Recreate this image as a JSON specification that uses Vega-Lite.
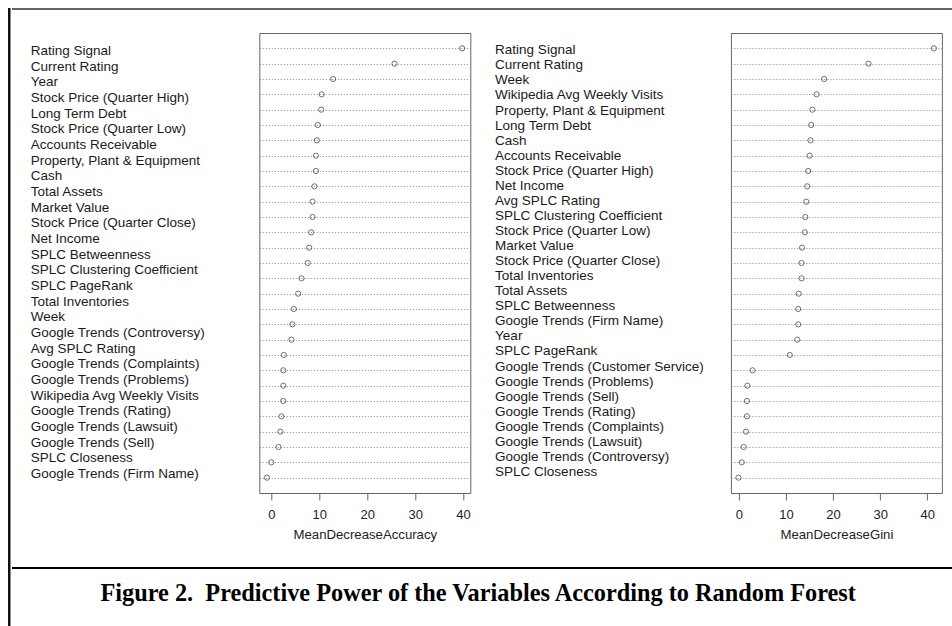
{
  "$schema": "https://vega.github.io/schema/vega-lite/v6.json",
  "padding": {"left": 8, "top": 8, "right": 0, "bottom": 0},
  "background": "white",
  "config": {
    "font": "Liberation Sans",
    "axis": {"labelFont": "Liberation Sans", "titleFont": "Liberation Sans"}
  },
  "datasets": {
    "accuracyDots": [
      {"row": 1, "value": 39.8}, {"row": 2, "value": 25.7}, {"row": 3, "value": 12.9},
      {"row": 4, "value": 10.5}, {"row": 5, "value": 10.4}, {"row": 6, "value": 9.7},
      {"row": 7, "value": 9.5}, {"row": 8, "value": 9.3}, {"row": 9, "value": 9.3},
      {"row": 10, "value": 9.0}, {"row": 11, "value": 8.6}, {"row": 12, "value": 8.6},
      {"row": 13, "value": 8.3}, {"row": 14, "value": 7.9}, {"row": 15, "value": 7.6},
      {"row": 16, "value": 6.3}, {"row": 17, "value": 5.6}, {"row": 18, "value": 4.7},
      {"row": 19, "value": 4.4}, {"row": 20, "value": 4.2}, {"row": 21, "value": 2.6},
      {"row": 22, "value": 2.5}, {"row": 23, "value": 2.5}, {"row": 24, "value": 2.5},
      {"row": 25, "value": 2.1}, {"row": 26, "value": 1.9}, {"row": 27, "value": 1.5},
      {"row": 28, "value": 0.0}, {"row": 29, "value": -0.9}
    ],
    "accuracyLabels": [
      {"order": 1, "variable": "Rating Signal"},
      {"order": 2, "variable": "Current Rating"},
      {"order": 3, "variable": "Year"},
      {"order": 4, "variable": "Stock Price (Quarter High)"},
      {"order": 5, "variable": "Long Term Debt"},
      {"order": 6, "variable": "Stock Price (Quarter Low)"},
      {"order": 7, "variable": "Accounts Receivable"},
      {"order": 8, "variable": "Property, Plant & Equipment"},
      {"order": 9, "variable": "Cash"},
      {"order": 10, "variable": "Total Assets"},
      {"order": 11, "variable": "Market Value"},
      {"order": 12, "variable": "Stock Price (Quarter Close)"},
      {"order": 13, "variable": "Net Income"},
      {"order": 14, "variable": "SPLC Betweenness"},
      {"order": 15, "variable": "SPLC Clustering Coefficient"},
      {"order": 16, "variable": "SPLC PageRank"},
      {"order": 17, "variable": "Total Inventories"},
      {"order": 18, "variable": "Week"},
      {"order": 19, "variable": "Google Trends (Controversy)"},
      {"order": 20, "variable": "Avg SPLC Rating"},
      {"order": 21, "variable": "Google Trends (Complaints)"},
      {"order": 22, "variable": "Google Trends (Problems)"},
      {"order": 23, "variable": "Wikipedia Avg Weekly Visits"},
      {"order": 24, "variable": "Google Trends (Rating)"},
      {"order": 25, "variable": "Google Trends (Lawsuit)"},
      {"order": 26, "variable": "Google Trends (Sell)"},
      {"order": 27, "variable": "SPLC Closeness"},
      {"order": 28, "variable": "Google Trends (Firm Name)"}
    ],
    "gini": [
      {"order": 1, "variable": "Rating Signal", "value": 41.4},
      {"order": 2, "variable": "Current Rating", "value": 27.5},
      {"order": 3, "variable": "Week", "value": 18.1},
      {"order": 4, "variable": "Wikipedia Avg Weekly Visits", "value": 16.5},
      {"order": 5, "variable": "Property, Plant & Equipment", "value": 15.6},
      {"order": 6, "variable": "Long Term Debt", "value": 15.35},
      {"order": 7, "variable": "Cash", "value": 15.2},
      {"order": 8, "variable": "Accounts Receivable", "value": 15.0},
      {"order": 9, "variable": "Stock Price (Quarter High)", "value": 14.7},
      {"order": 10, "variable": "Net Income", "value": 14.5},
      {"order": 11, "variable": "Avg SPLC Rating", "value": 14.3},
      {"order": 12, "variable": "SPLC Clustering Coefficient", "value": 14.1},
      {"order": 13, "variable": "Stock Price (Quarter Low)", "value": 14.0},
      {"order": 14, "variable": "Market Value", "value": 13.4},
      {"order": 15, "variable": "Stock Price (Quarter Close)", "value": 13.3},
      {"order": 16, "variable": "Total Inventories", "value": 13.3},
      {"order": 17, "variable": "Total Assets", "value": 12.7},
      {"order": 18, "variable": "SPLC Betweenness", "value": 12.6},
      {"order": 19, "variable": "Google Trends (Firm Name)", "value": 12.6},
      {"order": 20, "variable": "Year", "value": 12.4},
      {"order": 21, "variable": "SPLC PageRank", "value": 10.8},
      {"order": 22, "variable": "Google Trends (Customer Service)", "value": 2.9},
      {"order": 23, "variable": "Google Trends (Problems)", "value": 1.8},
      {"order": 24, "variable": "Google Trends (Sell)", "value": 1.7},
      {"order": 25, "variable": "Google Trends (Rating)", "value": 1.7},
      {"order": 26, "variable": "Google Trends (Complaints)", "value": 1.5},
      {"order": 27, "variable": "Google Trends (Lawsuit)", "value": 1.0},
      {"order": 28, "variable": "Google Trends (Controversy)", "value": 0.6},
      {"order": 29, "variable": "SPLC Closeness", "value": -0.1}
    ],
    "caption": [
      {"caption": "Figure 2.\u00a0 Predictive Power of the Variables According to Random Forest"}
    ]
  },
  "spacing": 0,
  "hconcat": [
    {
      "width": 0.5,
      "height": 640,
      "view": {"stroke": "#111", "strokeWidth": 2},
      "data": {"values": []},
      "mark": "point"
    },
    {
      "spacing": 26,
      "vconcat": [
        {
          "spacing": 2,
          "vconcat": [
            {
              "width": 950,
              "height": 20,
              "view": {"stroke": "#333", "strokeWidth": 1.5, "strokeDash": [950, 2000]},
              "data": {"name": "caption"},
              "mark": {"type": "text", "opacity": 0},
              "encoding": {"text": {"field": "caption", "type": "nominal"}}
            },
            {
              "spacing": 0,
              "hconcat": [
                {
                  "bounds": "flush",
                  "spacing": 209.3,
                  "hconcat": [
                    {
                      "width": 37.4,
                      "height": 460,
                      "view": {"stroke": null},
                      "data": {"name": "accuracyLabels"},
                      "mark": {
                        "type": "text", "align": "left", "baseline": "middle",
                        "fontSize": 13.5, "font": "Liberation Sans", "color": "#1a1a1a"
                      },
                      "encoding": {
                        "y": {
                          "field": "order", "type": "quantitative",
                          "scale": {"domain": [-0.15, 29.21], "reverse": true, "nice": false, "zero": false},
                          "axis": null
                        },
                        "text": {"field": "variable", "type": "nominal"}
                      }
                    },
                    {
                      "width": 211,
                      "height": 460,
                      "view": {"stroke": "#666", "strokeWidth": 1},
                      "data": {"name": "accuracyDots"},
                      "mark": {"type": "point", "filled": false, "size": 27, "stroke": "#333", "strokeWidth": 1},
                      "encoding": {
                        "x": {
                          "field": "value", "type": "quantitative",
                          "scale": {"domain": [-2.5, 41.5], "nice": false, "zero": false},
                          "axis": {
                            "values": [0, 10, 20, 30, 40], "title": "MeanDecreaseAccuracy",
                            "grid": false, "domain": false, "tickSize": 7, "tickColor": "#666",
                            "labelFontSize": 13, "labelColor": "#222", "labelPadding": 8,
                            "titleFontSize": 13.2, "titleFontWeight": "normal", "titleColor": "#222",
                            "titlePadding": 7
                          }
                        },
                        "y": {
                          "field": "row", "type": "ordinal",
                          "scale": {"type": "point", "padding": 1},
                          "axis": {
                            "orient": "left", "title": null, "labels": false, "ticks": false,
                            "domain": false, "grid": true, "gridDash": [1, 2], "gridColor": "#888",
                            "gridWidth": 1
                          }
                        }
                      }
                    }
                  ]
                },
                {
                  "bounds": "flush",
                  "spacing": 210.9,
                  "hconcat": [
                    {
                      "width": 48.2,
                      "height": 460,
                      "view": {"stroke": null},
                      "data": {"name": "gini"},
                      "mark": {
                        "type": "text", "align": "left", "baseline": "middle",
                        "fontSize": 13.5, "font": "Liberation Sans", "color": "#1a1a1a"
                      },
                      "encoding": {
                        "y": {
                          "field": "order", "type": "quantitative",
                          "scale": {"domain": [-0.15, 30.4], "reverse": true, "nice": false, "zero": false},
                          "axis": null
                        },
                        "text": {"field": "variable", "type": "nominal"}
                      }
                    },
                    {
                      "width": 211,
                      "height": 460,
                      "view": {"stroke": "#666", "strokeWidth": 1},
                      "data": {"name": "gini"},
                      "mark": {"type": "point", "filled": false, "size": 27, "stroke": "#333", "strokeWidth": 1},
                      "encoding": {
                        "x": {
                          "field": "value", "type": "quantitative",
                          "scale": {"domain": [-1.7, 43.1], "nice": false, "zero": false},
                          "axis": {
                            "values": [0, 10, 20, 30, 40], "title": "MeanDecreaseGini",
                            "grid": false, "domain": false, "tickSize": 7, "tickColor": "#666",
                            "labelFontSize": 13, "labelColor": "#222", "labelPadding": 8,
                            "titleFontSize": 13.2, "titleFontWeight": "normal", "titleColor": "#222",
                            "titlePadding": 7
                          }
                        },
                        "y": {
                          "field": "variable", "type": "nominal", "sort": null,
                          "scale": {"type": "point", "padding": 1},
                          "axis": {
                            "orient": "left", "title": null, "labels": false, "ticks": false,
                            "domain": false, "grid": true, "gridDash": [1, 2], "gridColor": "#888",
                            "gridWidth": 1
                          }
                        }
                      }
                    }
                  ]
                }
              ]
            }
          ]
        },
        {
          "width": 950,
          "height": 70,
          "view": {"stroke": "#000", "strokeWidth": 2, "strokeDash": [950, 1200]},
          "data": {"name": "caption"},
          "mark": {
            "type": "text", "font": "Liberation Serif", "fontWeight": "bold",
            "fontSize": 24.3, "dx": -8.8, "dy": -9, "color": "#000"
          },
          "encoding": {"text": {"field": "caption", "type": "nominal"}}
        }
      ]
    }
  ]
}
